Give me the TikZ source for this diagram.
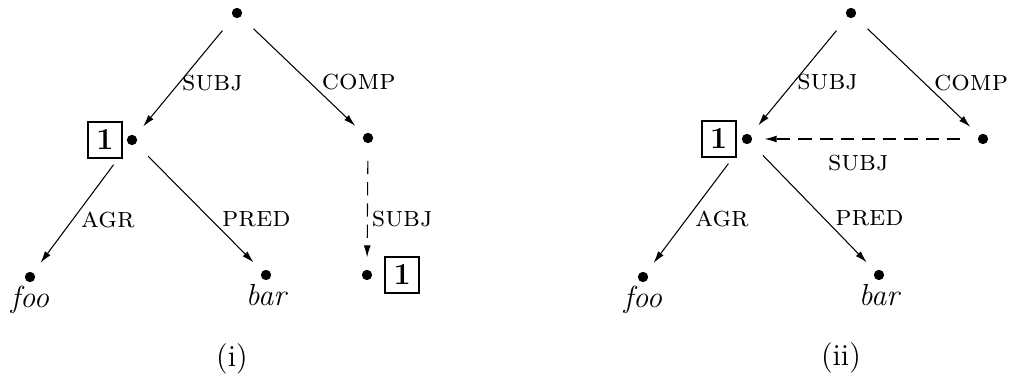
\documentclass[tikz,border=0pt]{standalone}
\usepackage{tikz}
\usetikzlibrary{arrows.meta,positioning}

\begin{document}
\fontsize{11.5}{14}\selectfont
\begin{tikzpicture}[x=0.3774pt,y=-0.3774pt,>={Latex[length=4.5pt,width=2.6pt]},
  dot/.style={circle,fill,inner sep=0pt,minimum size=3.9pt},
  tag/.style={draw,line width=0.8pt,inner sep=0pt,minimum width=12.8pt,
    minimum height=13.4pt,font=\bfseries},
  arc/.style={->,shorten <=6.5pt,shorten >=4.5pt},
  reent/.style={arc,dash pattern=on 5pt off 3pt},
  lbl/.style={font=\fontsize{11}{13}\selectfont\scshape,inner sep=0pt},
  leaf/.style={font=\itshape,inner sep=0pt}]
  \useasboundingbox (0,0) rectangle (1010,378);

  % (i)
  \node[dot] (top1) at (237,13) {};
  \node[dot] (shared1) at (132,140) {};
  \node[dot] (comp1) at (368,138) {};
  \node[dot] (foo1) at (30,277) {};
  \node[dot] (bar1) at (266,275) {};
  \node[dot] (low1) at (367,275) {};
  \node[tag,left=1.3pt of shared1] (tag1) {1};
  \node[tag,right=4.3pt of low1] (tag1b) {1};
  \node[leaf,below=1.2pt of foo1] (foo1txt) {foo};
  \node[leaf,below=1.2pt of bar1] (bar1txt) {bar};

  \draw[arc] (top1) -- node[lbl,pos=.556,anchor=west,xshift=1pt] {subj} (shared1);
  \draw[arc] (top1) -- node[lbl,pos=.556,anchor=west,xshift=4.5pt] {comp} (comp1);
  \draw[arc,shorten <=9.5pt] (shared1) --
    node[lbl,pos=.587,anchor=west,xshift=3pt] {agr} (foo1);
  \draw[arc] (shared1) -- node[lbl,pos=.596,anchor=west,xshift=4pt] {pred} (bar1);
  \draw[reent] (comp1) -- node[lbl,pos=.596,anchor=west,xshift=1.5pt] {subj} (low1);

  \node (cap1) at (232,359) {(i)};

  % (ii)
  \node[dot] (top2) at (851,13) {};
  \node[dot] (shared2) at (747,139) {};
  \node[dot] (comp2) at (983,139) {};
  \node[dot] (foo2) at (643,277) {};
  \node[dot] (bar2) at (879,275) {};
  \node[tag,left=1.7pt of shared2] (tag2) {1};
  \node[leaf,below=1.2pt of foo2] (foo2txt) {foo};
  \node[leaf,below=1.2pt of bar2] (bar2txt) {bar};

  \draw[arc] (top2) -- node[lbl,pos=.55,anchor=west,xshift=1pt] {subj} (shared2);
  \draw[arc] (top2) -- node[lbl,pos=.56,anchor=west,xshift=3.5pt] {comp} (comp2);
  \draw[arc,shorten <=9.5pt] (shared2) --
    node[lbl,pos=.584,anchor=west,xshift=3pt] {agr} (foo2);
  \draw[arc] (shared2) -- node[lbl,pos=.59,anchor=west,xshift=4pt] {pred} (bar2);
  \draw[reent] (comp2) -- node[lbl,pos=.53,below=6pt] {subj} (shared2);

  \node (cap2) at (841,358) {(ii)};
\end{tikzpicture}
\end{document}
